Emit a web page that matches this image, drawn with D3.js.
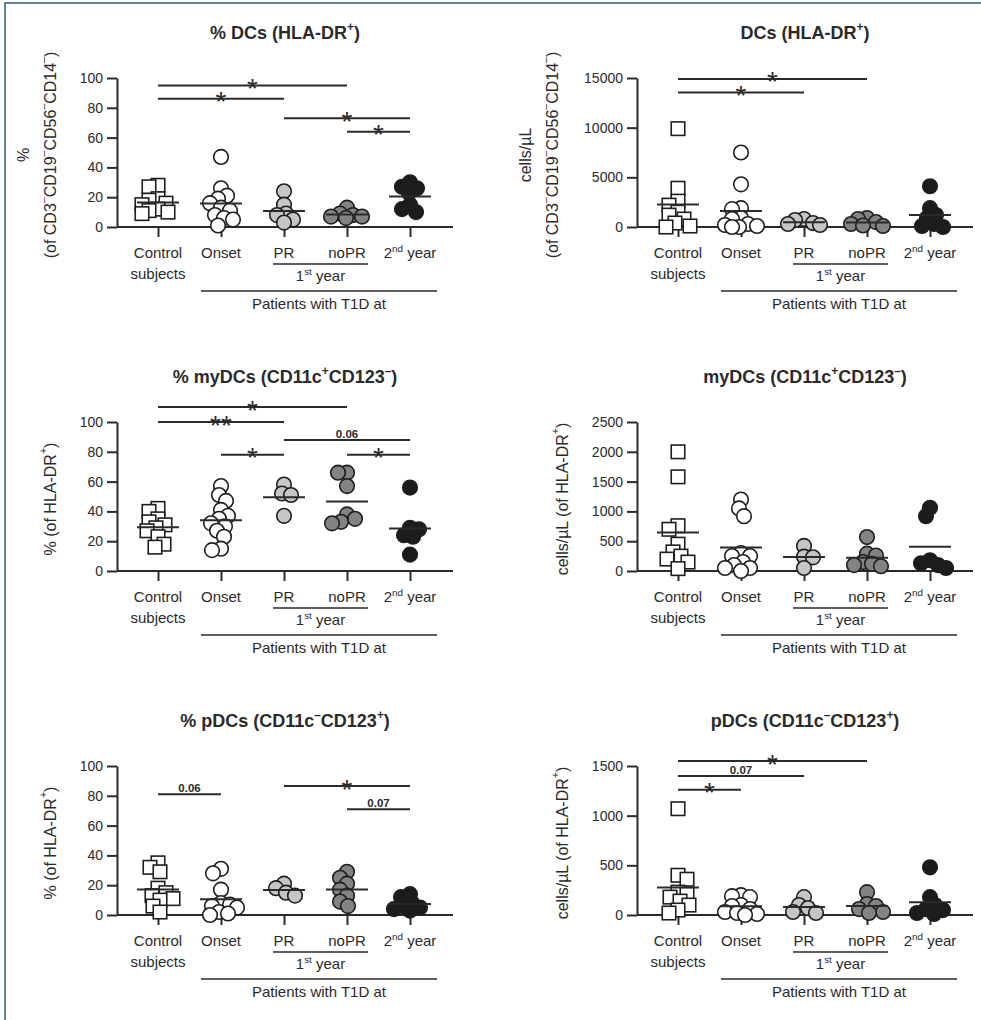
<!DOCTYPE html>
<html>
<head>
<meta charset="utf-8">
<script src="https://cdn.jsdelivr.net/npm/d3@7"></script>
<style>
  body { margin: 0; background: #fff; }
  svg { display: block; }
  text { font-family: "Liberation Sans", Arial, Helvetica, sans-serif; fill: #2a2a2a; }
</style>
</head>
<body>
<svg id="fig" width="981" height="1020"></svg>
<script>
// ---- categories and labels ----
const categories = ["Control", "Onset", "PR", "noPR", "2nd"];
const categoryLabels = [["Control", "subjects"], ["Onset"], ["PR"], ["noPR"], ["2^{nd} year"]];
const groupFill = ["#ffffff", "#ffffff", "#c6c6c6", "#838383", "#1c1c1c"];

// ---- tick values ----
const ticksPct = [0, 20, 40, 60, 80, 100];
const ticksDcAbs = [0, 5000, 10000, 15000];
const ticksMyAbs = [0, 500, 1000, 1500, 2000, 2500];
const ticksPAbs = [0, 500, 1000, 1500];

// ---- values per group: Control, Onset, PR, noPR, 2nd year ----
const dcPct = [
  [28, 27, 19, 18, 16, 15, 12, 11, 10, 9],
  [47, 26, 21, 19, 16, 13, 11, 8, 6, 5, 1],
  [24, 15, 9, 8, 5, 3],
  [13, 9, 8, 7, 7, 6],
  [30, 27, 26, 23, 15, 12, 10]
];
const dcAbs = [
  [9900, 3900, 2600, 2200, 1500, 1200, 800, 400, 100, 0],
  [7500, 4300, 1900, 1800, 900, 800, 300, 200, 100, 0, 0],
  [800, 700, 400, 300, 200],
  [900, 800, 500, 300, 150, 100],
  [4100, 1900, 1200, 900, 300, 100, 0]
];
const myPct = [
  [42, 40, 35, 33, 31, 29, 27, 23, 18, 16],
  [57, 51, 47, 41, 37, 35, 32, 30, 27, 23, 15, 14],
  [58, 52, 51, 37],
  [66, 66, 57, 38, 35, 33, 32],
  [56, 29, 28, 24, 23, 11]
];
const myAbs = [
  [2000, 1580, 760, 700, 450, 320, 250, 200, 150, 40],
  [1200, 1050, 920, 300, 250, 250, 150, 100, 50, 50, 0],
  [420, 240, 230, 50],
  [570, 290, 260, 150, 120, 100, 80],
  [1060, 920, 180, 130, 100, 50]
];
const pPct = [
  [35, 32, 29, 18, 15, 13, 11, 10, 6, 2],
  [31, 28, 17, 8, 7, 6, 5, 2, 1, 0],
  [21, 18, 15, 13],
  [29, 25, 21, 17, 13, 9, 6],
  [14, 12, 8, 6, 5, 4, 3]
];
const pAbs = [
  [1070, 400, 360, 230, 210, 180, 140, 100, 50, 20],
  [200, 190, 180, 100, 90, 60, 30, 20, 10, 0],
  [180, 100, 70, 30, 20],
  [230, 110, 90, 60, 30, 20],
  [480, 180, 100, 60, 50, 20, 10]
];

// ---- significance brackets: [from, to, level (data units), label] ----
const sigDcPct = [["Control", "noPR", 95, "*"], ["Control", "PR", 86, "*"], ["PR", "2nd", 73, "*"], ["noPR", "2nd", 64, "*"]];
const sigDcAbs = [["Control", "noPR", 14900, "*"], ["Control", "PR", 13550, "*"]];
const sigMyPct = [["Control", "noPR", 110, "*"], ["Control", "PR", 100, "**"], ["PR", "2nd", 88, "0.06"], ["noPR", "2nd", 78, "*"], ["Onset", "PR", 78, "*"]];
const sigMyAbs = [];
const sigPPct = [["Control", "Onset", 81, "0.06"], ["PR", "2nd", 86.5, "*"], ["noPR", "2nd", 71, "0.07"]];
const sigPAbs = [["Control", "noPR", 1550, "*"], ["Control", "PR", 1400, "0.07"], ["Control", "Onset", 1260, "*"]];

// ---- panels ----
const panels = [
  { col: 0, row: 0, title: "% DCs (HLA-DR^{+})", yLabel: ["%", "(of CD3^{–}CD19^{–}CD56^{–}CD14^{–})"], labelX: [23, 50], values: dcPct, ticks: ticksPct, sig: sigDcPct },
  { col: 1, row: 0, title: "DCs (HLA-DR^{+})", yLabel: ["cells/µL", "(of CD3^{–}CD19^{–}CD56^{–}CD14^{–})"], labelX: [5, 32], values: dcAbs, ticks: ticksDcAbs, sig: sigDcAbs },
  { col: 0, row: 1, title: "% myDCs (CD11c^{+}CD123^{–})", yLabel: ["% (of HLA-DR^{+})"], labelX: [50], values: myPct, ticks: ticksPct, sig: sigMyPct },
  { col: 1, row: 1, title: "myDCs (CD11c^{+}CD123^{–})", yLabel: ["cells/µL (of HLA-DR^{+})"], labelX: [42], values: myAbs, ticks: ticksMyAbs, sig: sigMyAbs },
  { col: 0, row: 2, title: "% pDCs (CD11c^{–}CD123^{+})", yLabel: ["% (of HLA-DR^{+})"], labelX: [50], values: pPct, ticks: ticksPct, sig: sigPPct },
  { col: 1, row: 2, title: "pDCs (CD11c^{–}CD123^{+})", yLabel: ["cells/µL (of HLA-DR^{+})"], labelX: [42], values: pAbs, ticks: ticksPAbs, sig: sigPAbs }
];

// ---- layout ----
const L = {
  colStep: 520, rowStep: 344,
  axisX: 117, xEnd: 453, y0: 227, yTop: 78,
  catFrom: 158, catTo: 410, tick: 10,
  meanHalf: 21, r: 7.3, sq: 13.5, minDist: 9, maxSpread: 16,
  ink: "#2a2a2a"
};

const svg = d3.select("#fig");

// figure frame
svg.append("path")
  .attr("d", "M5,1020V3H981")
  .attr("fill", "none")
  .attr("stroke", "#2f5f80")
  .attr("stroke-width", 1.5);

// text with ^{...} superscripts
function rich(textSel, str, size) {
  const parts = str.split(/\^\{([^}]*)\}/);
  let up = false;
  parts.forEach((p, i) => {
    if (!p) return;
    const sup = i % 2 === 1;
    const t = textSel.append("tspan").text(p);
    if (sup) {
      t.attr("font-size", size * 0.66);
      if (!up) { t.attr("dy", -size * 0.42); up = true; }
    } else if (up) {
      t.attr("dy", size * 0.42); up = false;
    }
  });
}

// horizontal spread of points sharing a category: nearest free slot to the
// centre line, or the least crowded slot when the band is full
function swarm(vals, y, minDist, maxSpread) {
  const pts = vals.map(v => ({ v, py: y(v), dx: 0 }));
  const order = pts.slice().sort((a, b) => b.v - a.v);
  const placed = [];
  order.forEach((p, n) => {
    let best = 0, bestScore = -Infinity;
    outer:
    for (let k = 0; k <= maxSpread; k++) {
      const c = k === 0 ? [0] : (n % 2 ? [-k, k] : [k, -k]);
      for (const dx of c) {
        const d = placed.length ? d3.min(placed, q => Math.hypot(q.dx - dx, q.py - p.py)) : Infinity;
        if (d >= minDist) { best = dx; break outer; }
        if (d > bestScore + 0.01) { bestScore = d; best = dx; }
      }
    }
    p.dx = best;
    placed.push(p);
  });
  return pts;
}

panels.forEach(P => {
  const g = svg.append("g").attr("transform", `translate(${P.col * L.colStep},${P.row * L.rowStep})`);
  const y = d3.scaleLinear().domain([0, d3.max(P.ticks)]).range([L.y0, L.yTop]);
  const x = d3.scalePoint().domain(categories).range([L.catFrom, L.catTo]);

  // title
  const title = g.append("text")
    .attr("x", (L.axisX + L.xEnd) / 2).attr("y", 39)
    .attr("text-anchor", "middle")
    .attr("font-size", 18).attr("font-weight", "bold");
  rich(title, P.title, 18);

  // y axis
  const yAxis = g.append("g")
    .attr("transform", `translate(${L.axisX},0)`)
    .call(d3.axisLeft(y).tickValues(P.ticks).tickFormat(d3.format("d")).tickSize(L.tick).tickSizeOuter(0).tickPadding(4));
  yAxis.select(".domain").attr("stroke", L.ink).attr("stroke-width", 2);
  yAxis.selectAll(".tick line").attr("stroke", L.ink).attr("stroke-width", 2);
  yAxis.selectAll(".tick text")
    .attr("font-size", 14).attr("fill", L.ink)
    .style("font-family", '"Liberation Sans", Arial, sans-serif');

  // y label(s)
  P.yLabel.forEach((s, i) => {
    const t = g.append("text")
      .attr("transform", `translate(${P.labelX[i]},${155}) rotate(-90)`)
      .attr("text-anchor", "middle")
      .attr("dominant-baseline", "central")
      .attr("font-size", 16);
    rich(t, s, 16);
  });

  // x axis line and category ticks
  g.append("line")
    .attr("x1", L.axisX).attr("x2", L.xEnd)
    .attr("y1", L.y0).attr("y2", L.y0)
    .attr("stroke", L.ink).attr("stroke-width", 2);
  const xAxis = g.append("g")
    .attr("transform", `translate(0,${L.y0})`)
    .call(d3.axisBottom(x).tickSize(L.tick).tickSizeOuter(0).tickFormat(() => ""));
  xAxis.select(".domain").remove();
  xAxis.selectAll(".tick line").attr("stroke", L.ink).attr("stroke-width", 2);

  // category labels
  categories.forEach((c, i) => {
    categoryLabels[i].forEach((s, j) => {
      const t = g.append("text")
        .attr("x", x(c)).attr("y", 258 + j * 21)
        .attr("text-anchor", "middle").attr("font-size", 15);
      rich(t, s, 15);
    });
  });

  // grouping lines under the category labels
  g.append("line")
    .attr("x1", x("PR") - 11).attr("x2", x("noPR") + 21)
    .attr("y1", 264).attr("y2", 264)
    .attr("stroke", L.ink).attr("stroke-width", 1.6);
  const yr = g.append("text")
    .attr("x", (x("PR") - 11 + x("noPR") + 21) / 2).attr("y", 281)
    .attr("text-anchor", "middle").attr("font-size", 15);
  rich(yr, "1^{st} year", 15);
  g.append("line")
    .attr("x1", x("Onset") - 20).attr("x2", x("2nd") + 27)
    .attr("y1", 291).attr("y2", 291)
    .attr("stroke", L.ink).attr("stroke-width", 1.6);
  g.append("text")
    .attr("x", (x("Onset") - 20 + x("2nd") + 27) / 2).attr("y", 309)
    .attr("text-anchor", "middle").attr("font-size", 15)
    .text("Patients with T1D at");

  // points
  categories.forEach((c, i) => {
    const pts = swarm(P.values[i], y, L.minDist, L.maxSpread);
    const gg = g.append("g");
    if (i === 0) {
      gg.selectAll("rect").data(pts).join("rect")
        .attr("x", d => x(c) + d.dx - L.sq / 2)
        .attr("y", d => d.py - L.sq / 2)
        .attr("width", L.sq).attr("height", L.sq)
        .attr("fill", groupFill[i]).attr("stroke", "#1e1e1e").attr("stroke-width", 1.6);
    } else {
      gg.selectAll("circle").data(pts).join("circle")
        .attr("cx", d => x(c) + d.dx)
        .attr("cy", d => d.py)
        .attr("r", L.r)
        .attr("fill", groupFill[i]).attr("stroke", "#1e1e1e").attr("stroke-width", 1.6);
    }
    // group mean
    const m = d3.mean(P.values[i]);
    g.append("line")
      .attr("x1", x(c) - L.meanHalf).attr("x2", x(c) + L.meanHalf)
      .attr("y1", y(m)).attr("y2", y(m))
      .attr("stroke", L.ink).attr("stroke-width", 2);
  });

  // significance brackets
  P.sig.forEach(([a, b, lvl, lab]) => {
    const yy = y(lvl);
    g.append("line")
      .attr("x1", x(a)).attr("x2", x(b))
      .attr("y1", yy).attr("y2", yy)
      .attr("stroke", L.ink).attr("stroke-width", 2);
    const star = lab.startsWith("*");
    g.append("text")
      .attr("x", (x(a) + x(b)) / 2)
      .attr("y", star ? yy + 12.5 : yy - 2)
      .attr("text-anchor", "middle")
      .attr("font-size", star ? 28 : 11.5)
      .attr("font-weight", star ? "normal" : "bold")
      .text(lab);
  });
});
</script>
</body>
</html>
